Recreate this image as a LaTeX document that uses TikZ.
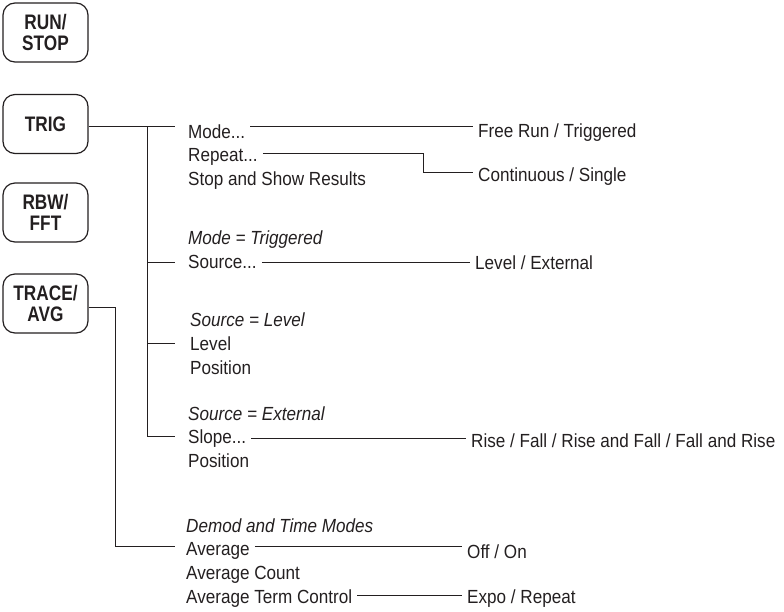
\documentclass[tikz,border=0pt]{standalone}
\usepackage{fontspec}
\setmainfont{Liberation Sans}
\newfontfamily\menufont{Liberation Sans}[FakeStretch=0.9]
\newfontfamily\btnfont{Liberation Sans}[FakeStretch=0.82]
\usetikzlibrary{calc}
\definecolor{ink}{HTML}{231F20}
\begin{document}
\begin{tikzpicture}[x=1pt,y=-1pt,
  btn/.style={draw=ink, line width=1.2pt, rounded corners=12pt, minimum width=85pt, minimum height=59pt,
    align=center, inner sep=0pt, text=ink, font=\btnfont\fontsize{21}{21.5}\selectfont\bfseries},
  lbl/.style={anchor=base west, inner xsep=5pt, inner ysep=0pt, text=ink, font=\menufont\fontsize{19}{22}\selectfont},
  itl/.style={lbl, font=\menufont\fontsize{19}{22}\selectfont\itshape},
  wire/.style={draw=ink, line width=1.2pt}]
\useasboundingbox (0,0) rectangle (784,611);
% buttons
\node[btn] (runstop) at (45.5,32.5) {RUN/\\STOP};
\node[btn] (trig) at (45.5,124) {TRIG};
\node[btn] (rbw) at (45.5,212.5) {RBW/\\FFT};
\node[btn] (trace) at (45.5,303.5) {TRACE/\\AVG};
% menu texts
\node[lbl] (mode) at (183,138) {Mode...};
\node[lbl] (repeat) at (183,161.5) {Repeat...};
\node[lbl] (stop) at (183,185) {Stop and Show Results};
\node[itl] (mtrig) at (183,244) {Mode = Triggered};
\node[lbl] (source) at (183,268) {Source...};
\node[itl] (slevel) at (185,326) {Source = Level};
\node[lbl] (level) at (185,350) {Level};
\node[lbl] (pos1) at (185,374) {Position};
\node[itl] (sext) at (183,420) {Source = External};
\node[lbl] (slope) at (183,443.5) {Slope...};
\node[lbl] (pos2) at (183,467) {Position};
\node[itl] (demod) at (181,532) {Demod and Time Modes};
\node[lbl] (avg) at (181,555.5) {Average};
\node[lbl] (avgcount) at (181,579) {Average Count};
\node[lbl] (atc) at (181,603) {Average Term Control};
% option texts
\node[lbl] (freerun) at (473,137.5) {Free Run / Triggered};
\node[lbl] (contsingle) at (473,181) {Continuous / Single};
\node[lbl] (levext) at (470,269.5) {Level / External};
\node[lbl] (rise) at (466,447) {Rise / Fall / Rise and Fall / Fall and Rise};
\node[lbl] (offon) at (462,558) {Off / On};
\node[lbl] (expo) at (462,603) {Expo / Repeat};
% tree coordinates
\coordinate (tj) at (147.5,126.5);
\coordinate (tb1) at (175,126.5);
\coordinate (tb2) at (175,262.5);
\coordinate (tb3) at (175,343.5);
\coordinate (tb4) at (175,436.5);
\coordinate (aj) at (115.5,307.5);
\coordinate (ab) at (175,546.5);
\coordinate (rc) at (423.5,153.5);
% TRIG tree
\draw[wire] (trig.east |- tj) -- (tb1);
\draw[wire] (tj) -- (tj |- tb4) -- (tb4);
\draw[wire] (tj |- tb2) -- (tb2);
\draw[wire] (tj |- tb3) -- (tb3);
% TRACE tree
\draw[wire] (trace.east |- aj) -- (aj) -- (aj |- ab) -- (ab);
% option connectors
\draw[wire] (mode.east |- 0,126.5) -- (freerun.west |- 0,126.5);
\draw[wire] (repeat.east |- rc) -- (rc) -- (rc |- 0,172.5) -- (contsingle.west |- 0,172.5);
\draw[wire] (source.east |- 0,262.5) -- (levext.west |- 0,262.5);
\draw[wire] (slope.east |- 0,438.5) -- (rise.west |- 0,438.5);
\draw[wire] (avg.east |- 0,546.5) -- (offon.west |- 0,546.5);
\draw[wire] (atc.east |- 0,595.5) -- (expo.west |- 0,595.5);
\end{tikzpicture}
\end{document}
